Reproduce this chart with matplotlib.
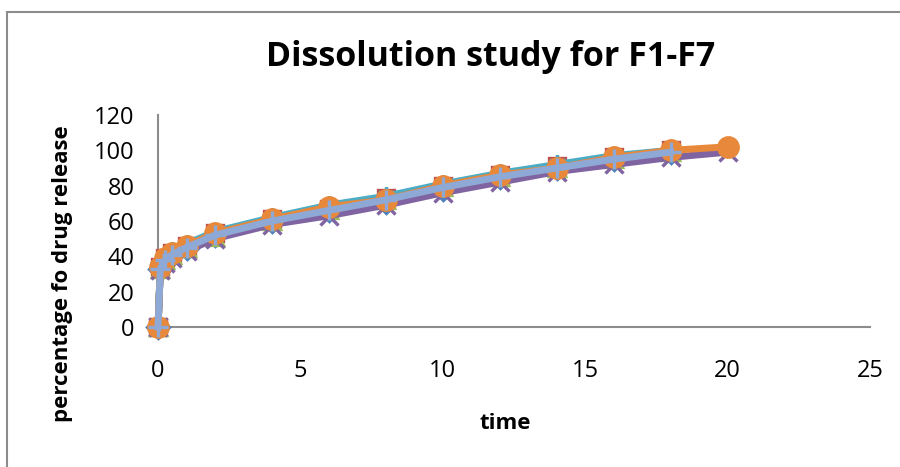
import matplotlib
matplotlib.use('Agg')
import numpy as np
import matplotlib.pyplot as plt
from matplotlib.patches import Rectangle

plt.rcParams['font.family'] = ['Open Sans', 'DejaVu Sans']

# sampling times (h)
time = [0, 0.08, 0.25, 0.5, 1, 2, 4, 6, 8, 10, 12, 14, 16, 18, 20]
nan = np.nan

f1 = [0, 33, 38, 41, 45, 52, 60, 66, 71, 78, 85, 90, 95, 99, nan]
f2 = [0, 34, 39, 42, 46, 53, 61, 67, 73, 80, 86, 91, 96, 100, nan]
f3 = [0, 33, 38, 41, 45, 51, 60, 66, 72, 79, 85, 90, 95, 99, nan]
f4 = [0, 32, 36, 39, 43, 50, 58, 63, 69, 76, 82, 88, 92, 96, 99]
f5 = [0, 35, 40, 43, 47, 54, 62, 69, 74, 81, 87, 92, 97, 100, nan]
f6 = [0, 34, 39, 42, 46, 53, 61, 68, 72, 80, 86, 90, 96, 100, 102]
f7 = [0, 33, 38, 41, 45, 52, 60, 66, 72, 79, 85, 90, 95, 99, nan]

series = [f1, f2, f3, f4, f5, f6, f7]
colors = ['#4F81BD', '#C0504D', '#9BBB59', '#8064A2', '#4BACC6', '#E8883A', '#8EA9D6']
markers = ['D', 's', '^', 'x', (6, 2, 0), 'o', '+']
msizes = [11, 12, 12, 13, 13, 14, 15]

fig = plt.figure(figsize=(9, 4.67), dpi=100)
ax = fig.add_axes([0.1756, 0.2998, 0.7911, 0.4539])

for i in range(len(series)):
    ax.plot(time, series[i], color=colors[i], lw=5, marker=markers[i],
            markersize=msizes[i], markeredgewidth=2.4,
            markeredgecolor=colors[i], markerfacecolor=colors[i],
            solid_joinstyle='round', zorder=3 + i, clip_on=False)

ax.set_xlim(0, 25)
ax.set_ylim(0, 120)
ax.set_xticks([0, 5, 10, 15, 20, 25])
ax.set_yticks(range(0, 121, 20))
for s in ['top', 'right']:
    ax.spines[s].set_visible(False)
for s in ['left', 'bottom']:
    ax.spines[s].set_color('#8C8C8C')
    ax.spines[s].set_linewidth(1.5)
ax.tick_params(axis='x', length=0, pad=23, labelsize=17)
ax.tick_params(axis='y', length=0, pad=17, labelsize=17)

fig.text(0.545, 0.878, 'Dissolution study for F1-F7', ha='center', va='center',
         fontsize=24.5, fontweight='bold')
fig.text(0.069, 0.415, 'percentage fo drug release', ha='center', va='center',
         rotation=90, fontsize=16, fontweight='bold')
fig.text(0.561, 0.094, 'time', ha='center', va='center',
         fontsize=16, fontweight='bold')

# chart border
fig.patches.append(Rectangle((7 / 900, -0.5), 1.5, 1.5 - 12 / 467,
                             transform=fig.transFigure, fill=False,
                             edgecolor='#8C8C8C', lw=1.5))

fig.savefig('out.png', dpi=100)
